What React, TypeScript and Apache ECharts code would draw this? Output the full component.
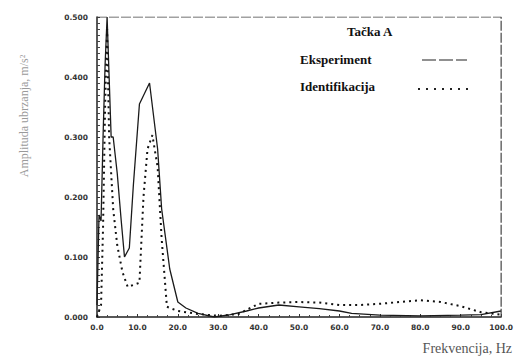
import React, { useEffect, useRef } from "react";
import * as echarts from "echarts";

// Frequency (Hz) and acceleration amplitude for the measured response
const expFreq = [0, 0.5, 1, 1.5, 2, 2.5, 3, 3.5, 4, 5, 6, 6.8, 8, 9, 10.5, 13, 15, 16, 18, 20, 22, 25, 29, 33, 37, 40, 45, 50, 55, 60, 63, 70, 80, 90, 95, 100];
const expAmp = [0.02, 0.17, 0.16, 0.3, 0.42, 0.5, 0.4, 0.3, 0.3, 0.24, 0.16, 0.1, 0.115, 0.22, 0.355, 0.39, 0.28, 0.18, 0.08, 0.025, 0.015, 0.006, 0.0, 0.004, 0.01, 0.015, 0.02, 0.017, 0.014, 0.01, 0.006, 0.003, 0.002, 0.003, 0.004, 0.01];

// Frequency (Hz) and amplitude from the identified model
const idFreq = [0, 1, 1.5, 2, 2.5, 3, 4, 5, 6.3, 7.6, 10.5, 11.5, 12.5, 13.7, 15, 16, 17.3, 20, 25, 30, 35, 40, 45, 50, 55, 60, 65, 70, 75, 80, 85, 90, 95, 100];
const idAmp = [0, 0.02, 0.15, 0.35, 0.48, 0.3, 0.18, 0.12, 0.075, 0.05, 0.057, 0.2, 0.28, 0.303, 0.25, 0.13, 0.017, 0.01, 0.005, 0.002, 0.005, 0.022, 0.024, 0.025, 0.024, 0.02, 0.02, 0.022, 0.025, 0.028, 0.025, 0.018, 0.008, 0.004];

const titleText = "Tačka A";
const expName = "Eksperiment";
const idName = "Identifikacija";
const xName = "Frekvencija, Hz";
const yName = "Amplituda ubrzanja, m/s²";

const serif = "'Liberation Serif', 'DejaVu Serif', serif";

export default function App() {
  const ref = useRef<HTMLDivElement>(null);

  useEffect(() => {
    if (!ref.current) return;
    const chart = echarts.init(ref.current, null, { renderer: "svg" });
    const pair = (xs: number[], ys: number[]) => xs.map((x, i) => [x, ys[i]]);
    chart.setOption({
      animation: false,
      backgroundColor: "#ffffff",
      grid: { left: 97, right: 8, top: 17, bottom: 47 },
      xAxis: {
        type: "value",
        min: 0,
        max: 100,
        interval: 10,
        axisLine: { show: true, lineStyle: { color: "#222", width: 1.5 } },
        axisTick: { show: true, inside: true, length: 3, lineStyle: { color: "#333" } },
        minorTick: { show: true, splitNumber: 4, length: 2, lineStyle: { color: "#444" } },
        splitLine: { show: false },
        axisLabel: {
          formatter: (v: number) => v.toFixed(1),
          fontFamily: "'DejaVu Sans', sans-serif",
          fontSize: 7.5,
          fontWeight: "bold",
          color: "#333",
          margin: 6,
        },
      },
      yAxis: {
        type: "value",
        min: 0,
        max: 0.5,
        interval: 0.1,
        axisLine: { show: true, lineStyle: { color: "#222", width: 1.5 } },
        axisTick: { show: true, inside: true, length: 3, lineStyle: { color: "#333" } },
        minorTick: { show: true, splitNumber: 10, length: 3, lineStyle: { color: "#444" } },
        splitLine: { show: false },
        axisLabel: {
          formatter: (v: number) => v.toFixed(3),
          fontFamily: "'DejaVu Sans', sans-serif",
          fontSize: 7.5,
          fontWeight: "bold",
          color: "#333",
          margin: 9,
        },
      },
      series: [
        {
          name: expName,
          type: "line",
          data: pair(expFreq, expAmp),
          showSymbol: false,
          lineStyle: { color: "#1a1a1a", width: 1.3 },
        },
        {
          name: idName,
          type: "line",
          data: pair(idFreq, idAmp),
          showSymbol: false,
          lineStyle: { color: "#111", width: 2, type: [2, 4] },
        },
        {
          // top and right frame of the plot box
          type: "line",
          data: [[0, 0.5], [100, 0.5], [100, 0]],
          showSymbol: false,
          silent: true,
          lineStyle: { color: "#444", width: 1.2, type: [10, 2] },
        },
      ],
      graphic: [
        {
          type: "text",
          left: 347,
          top: 25,
          style: { text: titleText, font: `bold 13px ${serif}`, fill: "#111" },
        },
        {
          type: "text",
          left: 300,
          top: 53,
          style: { text: expName, font: `bold 13px ${serif}`, fill: "#111" },
        },
        {
          type: "line",
          shape: { x1: 422, y1: 60, x2: 467, y2: 60 },
          style: { stroke: "#222", lineWidth: 1.2, lineDash: [14, 3] },
        },
        {
          type: "text",
          left: 300,
          top: 80,
          style: { text: idName, font: `bold 13px ${serif}`, fill: "#111" },
        },
        {
          type: "line",
          shape: { x1: 418, y1: 89, x2: 468, y2: 89 },
          style: { stroke: "#222", lineWidth: 1.8, lineDash: [2, 6] },
        },
        {
          type: "text",
          x: 24,
          y: 116,
          rotation: Math.PI / 2,
          style: {
            text: yName,
            font: `12px ${serif}`,
            fill: "#9a9a9a",
            align: "center",
            verticalAlign: "middle",
          },
        },
        {
          type: "text",
          right: 4,
          top: 341,
          style: { text: xName, font: `14px ${serif}`, fill: "#555" },
        },
      ],
    });
    return () => chart.dispose();
  }, []);

  return (
    <div
      ref={ref}
      style={{ position: "fixed", left: 0, top: 0, width: 516, height: 364 }}
    />
  );
}
